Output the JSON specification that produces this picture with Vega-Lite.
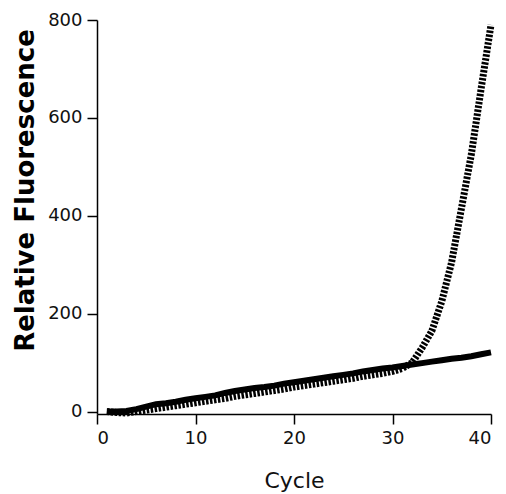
{
  "$schema": "https://vega.github.io/schema/vega-lite/v6.json",
  "width": 394,
  "height": 394,
  "autosize": "none",
  "padding": {"left": 97, "top": 20, "right": 15, "bottom": 80},
  "background": "white",
  "config": {
    "view": {"stroke": null},
    "axis": {
      "grid": false,
      "domainColor": "black",
      "domainWidth": 1.5,
      "tickColor": "black",
      "tickWidth": 1.5,
      "tickSize": 10,
      "labelFont": "DejaVu Sans",
      "labelFontSize": 18,
      "labelColor": "#111",
      "labelPadding": 5
    }
  },
  "data": {
    "values": [
      {"cycle": 1, "solid": 0, "dotted": 0},
      {"cycle": 2, "solid": 0, "dotted": -2},
      {"cycle": 3, "solid": 1, "dotted": -3},
      {"cycle": 4, "solid": 5, "dotted": 0},
      {"cycle": 5, "solid": 10, "dotted": 3},
      {"cycle": 6, "solid": 15, "dotted": 6},
      {"cycle": 7, "solid": 17, "dotted": 9},
      {"cycle": 8, "solid": 20, "dotted": 12},
      {"cycle": 9, "solid": 24, "dotted": 15},
      {"cycle": 10, "solid": 27, "dotted": 18},
      {"cycle": 11, "solid": 30, "dotted": 21},
      {"cycle": 12, "solid": 33, "dotted": 24},
      {"cycle": 13, "solid": 38, "dotted": 27},
      {"cycle": 14, "solid": 42, "dotted": 31},
      {"cycle": 15, "solid": 45, "dotted": 34},
      {"cycle": 16, "solid": 48, "dotted": 37},
      {"cycle": 17, "solid": 50, "dotted": 40},
      {"cycle": 18, "solid": 53, "dotted": 43},
      {"cycle": 19, "solid": 57, "dotted": 46},
      {"cycle": 20, "solid": 60, "dotted": 50},
      {"cycle": 21, "solid": 63, "dotted": 53},
      {"cycle": 22, "solid": 66, "dotted": 56},
      {"cycle": 23, "solid": 69, "dotted": 59},
      {"cycle": 24, "solid": 72, "dotted": 62},
      {"cycle": 25, "solid": 75, "dotted": 65},
      {"cycle": 26, "solid": 78, "dotted": 68},
      {"cycle": 27, "solid": 82, "dotted": 72},
      {"cycle": 28, "solid": 85, "dotted": 75},
      {"cycle": 29, "solid": 88, "dotted": 78},
      {"cycle": 30, "solid": 90, "dotted": 82},
      {"cycle": 31, "solid": 93, "dotted": 88},
      {"cycle": 32, "solid": 96, "dotted": 100},
      {"cycle": 33, "solid": 99, "dotted": 130},
      {"cycle": 34, "solid": 102, "dotted": 165},
      {"cycle": 35, "solid": 105, "dotted": 225},
      {"cycle": 36, "solid": 108, "dotted": 305},
      {"cycle": 37, "solid": 110, "dotted": 415},
      {"cycle": 38, "solid": 113, "dotted": 525},
      {"cycle": 39, "solid": 117, "dotted": 660},
      {"cycle": 40, "solid": 121, "dotted": 790}
    ]
  },
  "encoding": {
    "x": {
      "field": "cycle",
      "type": "quantitative",
      "scale": {"domain": [0, 40], "nice": false},
      "axis": {
        "values": [0, 10, 20, 30, 40],
        "title": "Cycle",
        "titleFont": "DejaVu Sans",
        "titleFontSize": 22,
        "titleFontWeight": "normal",
        "titleColor": "#111",
        "titleBaseline": "alphabetic",
        "titleY": 73
      }
    }
  },
  "layer": [
    {
      "mark": {"type": "line", "color": "black", "strokeWidth": 7, "strokeDash": [2.5, 1.5], "strokeCap": "butt"},
      "encoding": {
        "y": {
          "field": "dotted",
          "type": "quantitative",
          "scale": {"domain": [-5, 800], "nice": false, "zero": false},
          "axis": {
            "values": [0, 200, 400, 600, 800],
            "title": "Relative Fluorescence",
            "titleFont": "DejaVu Sans",
            "titleFontSize": 26,
            "titleFontWeight": "bold",
            "titleColor": "black",
            "titleAngle": -90,
            "titleBaseline": "alphabetic",
            "titleAlign": "center",
            "titleX": -64,
            "titleY": 170
          }
        }
      }
    },
    {
      "mark": {"type": "line", "color": "black", "strokeWidth": 6},
      "encoding": {
        "y": {"field": "solid", "type": "quantitative"}
      }
    }
  ]
}
